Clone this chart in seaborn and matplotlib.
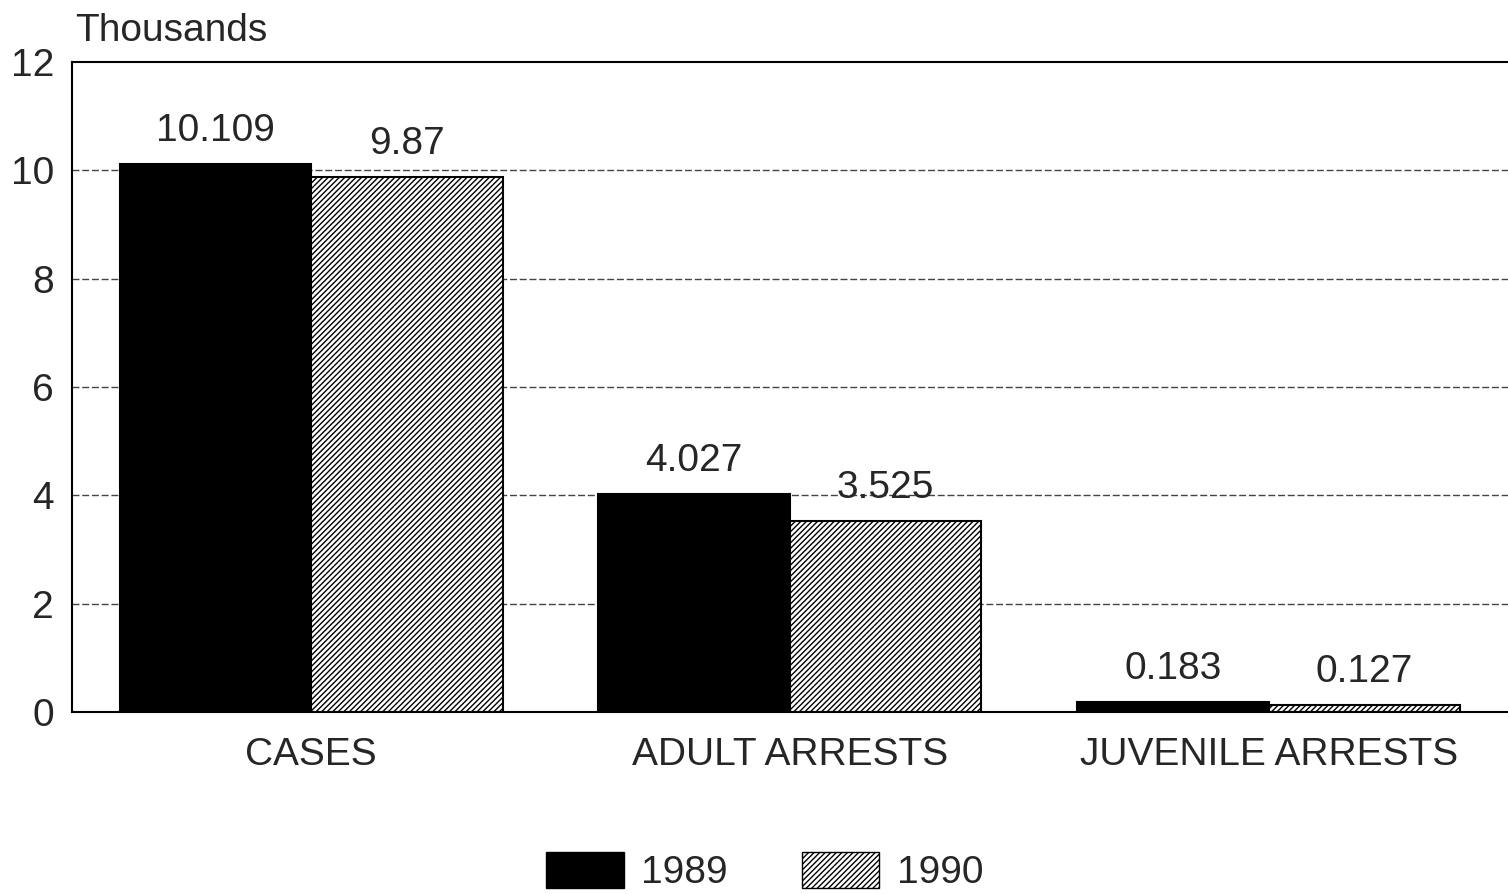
import pandas as pd
import matplotlib
matplotlib.use("Agg")
import matplotlib.pyplot as plt
import seaborn as sns
from matplotlib.patches import Patch

categories = ["CASES", "ADULT ARRESTS", "JUVENILE ARRESTS"]
years = ["1989", "1990"]
values_1989 = [10.109, 4.027, 0.183]
values_1990 = [9.87, 3.525, 0.127]
value_labels_1989 = ["10.109", "4.027", "0.183"]
value_labels_1990 = ["9.87", "3.525", "0.127"]
y_ticks = [0, 2, 4, 6, 8, 10, 12]

FS = 28

sns.set_theme(style="white")
plt.rcParams["font.family"] = ["Liberation Sans", "DejaVu Sans"]
plt.rcParams["hatch.linewidth"] = 1.0

df = pd.DataFrame({
    "category": categories * 2,
    "year": [years[0]] * 3 + [years[1]] * 3,
    "value": values_1989 + values_1990,
})

fig = plt.figure(figsize=(15.08, 8.94), dpi=100)
ax = fig.add_axes([0.0477, 0.2036, 0.9523, 0.727])

sns.barplot(
    data=df, x="category", y="value", hue="year",
    palette=["black", "white"], edgecolor="black", linewidth=1.5,
    width=0.8, saturation=1, legend=False, ax=ax, errorbar=None
)

# hatch the 1990 bars
for bar in ax.containers[1]:
    bar.set_hatch("//////")

ax.bar_label(ax.containers[0], labels=value_labels_1989, padding=11, fontsize=FS)
ax.bar_label(ax.containers[1], labels=value_labels_1990, padding=11, fontsize=FS)

ax.set_ylim(0, 12)
ax.set_xlim(-0.5, 2.5)
ax.set_yticks(y_ticks)
ax.set_yticklabels([str(t) for t in y_ticks], fontsize=FS)
ax.tick_params(axis="y", length=0, pad=13)
ax.tick_params(axis="x", length=0, pad=18, labelsize=FS)
ax.set_xlabel("")
ax.set_ylabel("")

for yv in y_ticks[1:-1]:
    ax.axhline(yv, color="#444444", linewidth=1.0, linestyle=(0, (5, 2)), zorder=0)

for side in ["left", "bottom", "top"]:
    ax.spines[side].set_visible(True)
    ax.spines[side].set_color("black")
    ax.spines[side].set_linewidth(1.5)
ax.spines["right"].set_visible(False)

fig.text(0.05, 0.985, "Thousands", fontsize=FS, va="top", ha="left")

handles = [
    Patch(facecolor="black", edgecolor="black", label=years[0]),
    Patch(facecolor="white", edgecolor="black", hatch="//////", label=years[1]),
]
fig.legend(handles=handles, loc="center", bbox_to_anchor=(0.507, 0.025), ncol=2,
           frameon=False, fontsize=FS, handlelength=2.0, handleheight=1.05,
           handletextpad=0.45, columnspacing=1.9)

fig.savefig("out.png", dpi=100)
